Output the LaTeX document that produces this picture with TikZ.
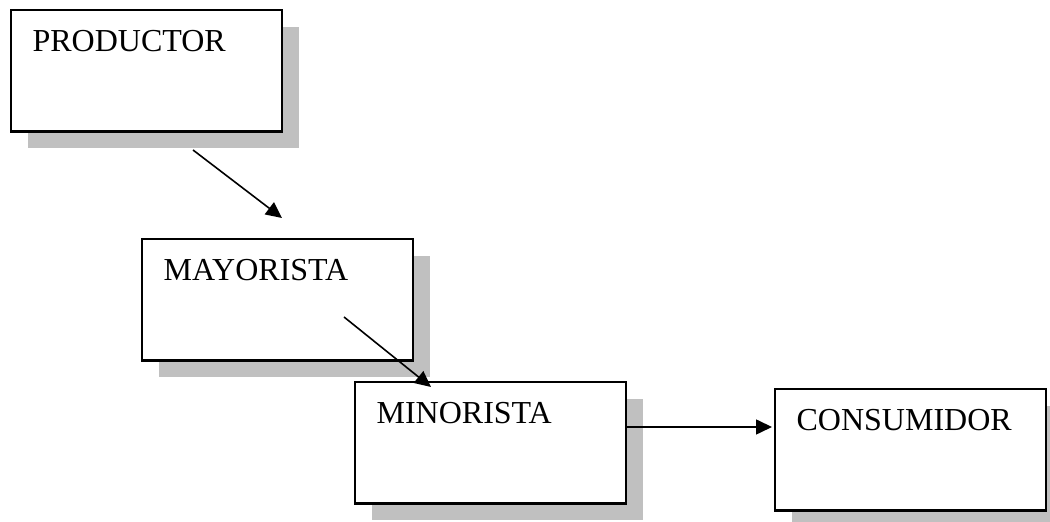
\documentclass[tikz,border=0pt]{standalone}
\usepackage{fontspec}
\setmainfont{Liberation Serif}
\usetikzlibrary{shadows,arrows.meta}
\definecolor{shadowgray}{RGB}{192,192,192}

\begin{document}
\begin{tikzpicture}[x=0.5pt,y=-0.5pt]
\tikzstyle{box}=[draw=black, line width=1.1pt, fill=white, anchor=north west,
  inner xsep=10.75pt, inner ysep=0pt, text width=114pt, align=left,
  text height=20.5pt, text depth=40.25pt, font=\fontsize{16}{18}\selectfont,
  drop shadow={shadow xshift=8.25pt, shadow yshift=-8.25pt, fill=shadowgray, opacity=1}]
\tikzstyle{flow}=[line width=0.8pt, -{Triangle[length=8pt,width=7.5pt]}]
\useasboundingbox (0,0) rectangle (1050,522);
% boxes
\node [box] (productor) at (10,9) {PRODUCTOR};
\node [box] (mayorista) at (141,238) {MAYORISTA};
\node [box] (minorista) at (354,381) {MINORISTA};
\node [box] (consumidor) at (774,388) {CONSUMIDOR};
% arrow ends
\coordinate (p1) at (193,150);
\coordinate (p2) at (282,218);
\coordinate (m1) at (344,317);
\coordinate (m2) at (431,387);
\coordinate (c1) at (772,427);
% arrows
\draw [flow] (p1) -- (p2);
\draw [flow] (m1) -- (m2);
\draw [flow] (minorista.east |- c1) -- (c1);
\end{tikzpicture}
\end{document}
